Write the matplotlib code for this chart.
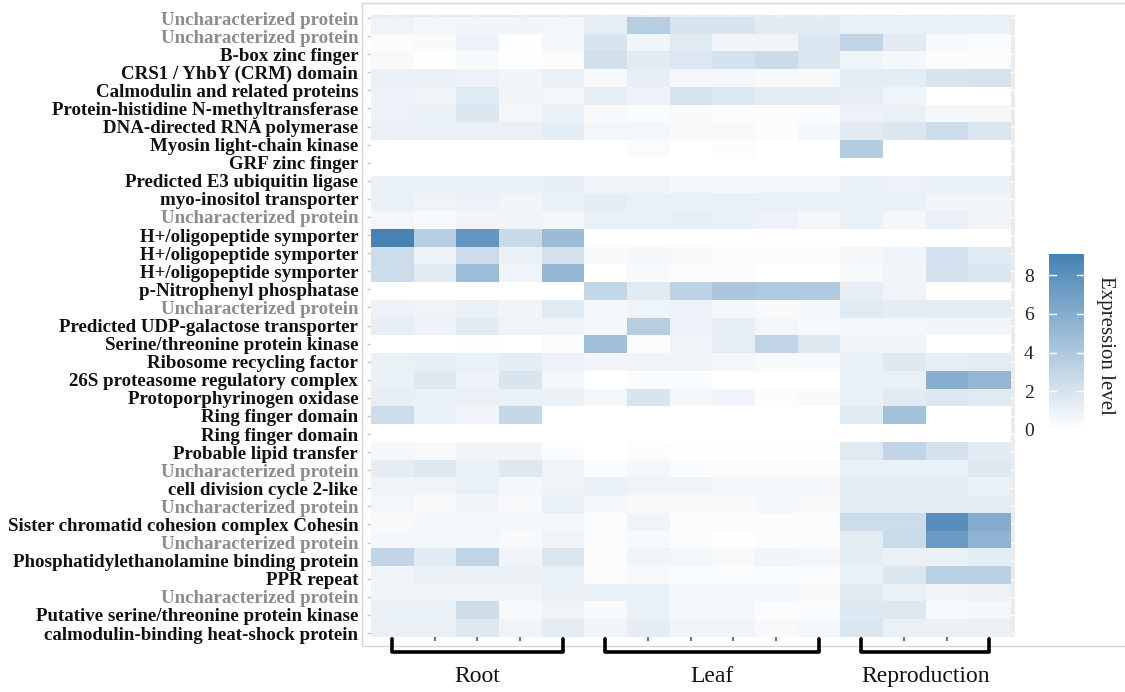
import numpy as np
import matplotlib
matplotlib.use('Agg')
import matplotlib.pyplot as plt
from matplotlib.colors import LinearSegmentedColormap
from matplotlib.patches import Rectangle
from matplotlib.transforms import blended_transform_factory

genes = [
    'Uncharacterized protein', 'Uncharacterized protein', 'B-box zinc finger',
    'CRS1 / YhbY (CRM) domain', 'Calmodulin and related proteins',
    'Protein-histidine N-methyltransferase', 'DNA-directed RNA polymerase',
    'Myosin light-chain kinase', 'GRF zinc finger', 'Predicted E3 ubiquitin ligase',
    'myo-inositol transporter', 'Uncharacterized protein',
    'H+/oligopeptide symporter', 'H+/oligopeptide symporter', 'H+/oligopeptide symporter',
    'p-Nitrophenyl phosphatase', 'Uncharacterized protein',
    'Predicted UDP-galactose transporter', 'Serine/threonine protein kinase',
    'Ribosome recycling factor', '26S proteasome regulatory complex',
    'Protoporphyrinogen oxidase', 'Ring finger domain', 'Ring finger domain',
    'Probable lipid transfer', 'Uncharacterized protein', 'cell division cycle 2-like',
    'Uncharacterized protein', 'Sister chromatid cohesion complex Cohesin',
    'Uncharacterized protein', 'Phosphatidylethanolamine binding protein',
    'PPR repeat', 'Uncharacterized protein', 'Putative serine/threonine protein kinase',
    'calmodulin-binding heat-shock protein',
]

tissues = ['Root', 'Leaf', 'Reproduction']
n_samples = [5, 6, 4]

# expression per gene: 5 root, 6 leaf, 4 reproduction samples
expr = np.array([
    [0.8, 0.6, 0.7, 0.7, 0.6, 1.2, 3.5, 1.9, 1.9, 1.4, 1.4, 1.1, 1.1, 1.1, 1.1],
    [0.2, 0.4, 0.9, 0.1, 0.5, 1.9, 0.7, 1.5, 0.7, 0.7, 1.8, 3.0, 1.4, 0.4, 0.2],
    [0.4, 0.1, 0.4, 0.1, 0.2, 2.3, 1.4, 1.7, 2.1, 2.6, 1.8, 0.8, 0.5, 0.2, 0.2],
    [1.0, 1.0, 0.9, 0.7, 1.0, 0.4, 1.2, 0.6, 0.6, 0.4, 0.4, 1.3, 1.3, 1.9, 2.0],
    [0.9, 0.8, 1.5, 0.7, 0.6, 1.2, 0.9, 2.0, 1.6, 1.3, 1.3, 1.2, 0.8, 0.0, 0.0],
    [0.9, 1.1, 1.8, 0.6, 1.0, 0.4, 0.2, 0.4, 0.2, 0.2, 0.2, 0.9, 1.0, 0.6, 0.6],
    [1.1, 1.1, 1.0, 1.1, 1.3, 0.6, 0.6, 0.4, 0.4, 0.2, 0.5, 1.4, 1.8, 2.5, 1.8],
    [0.0, 0.0, 0.0, 0.0, 0.0, 0.0, 0.3, 0.0, 0.2, 0.0, 0.0, 3.6, 0.0, 0.0, 0.0],
    [0.0, 0.0, 0.0, 0.0, 0.0, 0.0, 0.0, 0.0, 0.0, 0.0, 0.0, 0.0, 0.0, 0.0, 0.0],
    [1.1, 1.0, 1.0, 1.0, 1.2, 0.8, 0.8, 0.6, 0.5, 0.6, 0.6, 1.1, 0.9, 1.1, 1.1],
    [1.1, 0.8, 0.9, 0.7, 1.1, 1.3, 1.0, 1.1, 1.0, 1.0, 1.0, 1.0, 1.0, 0.7, 0.7],
    [0.6, 0.4, 0.7, 0.7, 0.6, 1.1, 1.0, 1.2, 1.1, 0.9, 0.6, 1.0, 0.5, 1.0, 0.7],
    [9.1, 3.5, 7.7, 2.7, 4.9, 0.0, 0.0, 0.0, 0.0, 0.0, 0.0, 0.0, 0.0, 0.0, 0.0],
    [2.5, 0.9, 2.5, 1.0, 2.2, 0.4, 0.5, 0.4, 0.2, 0.2, 0.2, 0.6, 0.8, 2.2, 1.5],
    [2.5, 1.4, 4.8, 0.8, 5.2, 0.0, 0.4, 0.2, 0.2, 0.0, 0.0, 0.4, 0.7, 2.2, 1.8],
    [0.0, 0.0, 0.0, 0.0, 0.0, 2.9, 1.5, 3.2, 4.1, 3.9, 3.9, 1.2, 0.8, 0.0, 0.0],
    [0.9, 0.8, 1.0, 0.7, 1.5, 0.5, 0.8, 0.9, 0.5, 0.4, 0.5, 1.5, 1.3, 1.3, 1.3],
    [1.2, 0.9, 1.4, 0.8, 0.8, 0.6, 3.5, 0.9, 1.2, 0.6, 0.4, 0.6, 0.6, 0.7, 0.7],
    [0.0, 0.0, 0.1, 0.0, 0.2, 4.6, 0.2, 0.8, 1.2, 3.0, 1.6, 0.8, 0.8, 0.0, 0.0],
    [1.0, 1.2, 1.0, 1.3, 0.9, 0.7, 0.8, 0.8, 0.6, 0.4, 0.4, 1.1, 1.6, 1.2, 1.3],
    [1.1, 1.6, 0.9, 1.9, 0.6, 0.0, 0.2, 0.2, 0.0, 0.0, 0.0, 1.0, 1.0, 5.8, 5.2],
    [1.2, 1.1, 1.1, 1.1, 1.1, 0.6, 1.9, 0.6, 0.7, 0.2, 0.4, 1.1, 1.5, 1.7, 1.5],
    [2.5, 1.0, 0.7, 2.8, 0.0, 0.0, 0.0, 0.0, 0.0, 0.0, 0.0, 1.5, 4.5, 0.0, 0.0],
    [0.0, 0.0, 0.0, 0.0, 0.0, 0.0, 0.0, 0.0, 0.0, 0.0, 0.0, 0.0, 0.0, 0.0, 0.0],
    [0.5, 0.4, 0.7, 0.7, 0.2, 0.0, 0.2, 0.1, 0.1, 0.1, 0.1, 1.5, 3.0, 2.1, 1.4],
    [1.3, 1.6, 1.1, 1.6, 0.8, 0.2, 0.6, 0.2, 0.2, 0.2, 0.2, 1.1, 1.1, 1.1, 1.6],
    [0.8, 0.8, 1.0, 0.6, 0.8, 1.0, 0.8, 0.8, 0.6, 0.6, 0.6, 1.3, 1.3, 1.3, 1.0],
    [0.6, 0.4, 0.7, 0.4, 1.0, 0.6, 0.4, 0.4, 0.4, 0.5, 0.4, 1.3, 1.3, 1.3, 1.3],
    [0.4, 0.6, 0.6, 0.5, 0.6, 0.2, 0.8, 0.2, 0.2, 0.2, 0.3, 2.5, 2.5, 8.2, 6.0],
    [0.5, 0.6, 0.6, 0.4, 0.8, 0.2, 0.4, 0.2, 0.1, 0.2, 0.2, 1.3, 2.6, 7.3, 5.5],
    [3.0, 1.4, 3.1, 0.7, 1.8, 0.2, 0.7, 0.6, 0.4, 0.7, 0.6, 1.3, 1.0, 1.1, 1.3],
    [0.8, 1.0, 1.0, 1.1, 1.1, 0.2, 0.4, 0.2, 0.2, 0.2, 0.3, 1.0, 1.8, 3.4, 3.4],
    [0.8, 0.8, 0.8, 0.8, 1.0, 1.1, 1.1, 0.6, 0.6, 0.5, 0.4, 1.5, 1.1, 0.8, 0.9],
    [1.0, 1.0, 2.4, 0.4, 0.8, 0.4, 1.1, 0.6, 0.6, 0.2, 0.2, 1.6, 1.6, 0.4, 0.6],
    [1.1, 1.0, 1.6, 0.8, 1.3, 0.7, 1.3, 0.7, 0.7, 0.4, 0.6, 1.8, 1.1, 1.0, 1.0],
])

W, H = 1125, 692


def box(x0, y0, x1, y1):
    # pixel rectangle (top-left origin) -> figure fraction
    return [x0 / W, 1 - y1 / H, (x1 - x0) / W, (y1 - y0) / H]


cmap = LinearSegmentedColormap.from_list('expr', ['#FFFFFF', '#4682B4'])
vmax = expr.max()

fig = plt.figure(figsize=(W / 100, H / 100), dpi=100)

# light frame around the plotting region
fig.add_artist(Rectangle((362 / W, 1 - 646 / H), 800 / W, 643 / H,
                         transform=fig.transFigure, fill=False,
                         edgecolor='#D6D6D6', lw=1.0, zorder=0))

# panel with gene labels and sample ticks
ax = fig.add_axes(box(370.7, 15, 1015, 637))
ax.set_facecolor('#EBEBEB')
n_rows, n_cols = expr.shape
ax.set_xlim(-0.5, n_cols - 0.4)
ax.set_ylim(n_rows - 0.78, -0.166)
ax.set_yticks(range(n_rows))
ax.set_yticklabels(genes, family='Liberation Serif', fontweight='bold', fontsize=13.6)
for lab, name in zip(ax.get_yticklabels(), genes):
    lab.set_color('#8C8C8C' if name == 'Uncharacterized protein' else '#111111')
ax.set_xticks(range(n_cols))
ax.set_xticklabels([])
ax.tick_params(axis='y', length=3, width=1, color='#C8C8C8', pad=6)
ax.tick_params(axis='x', length=3, width=1.6, color='#777777')
ax.grid(color='white', lw=1)
ax.set_axisbelow(True)
for s in ax.spines.values():
    s.set_visible(False)

# heatmap tiles
hm = fig.add_axes(box(370.7, 16.7, 1010.7, 636.7))
im = hm.imshow(expr, cmap=cmap, vmin=0, vmax=vmax, aspect='auto',
               interpolation='nearest')
hm.axis('off')

# tissue brackets under the columns
tr = blended_transform_factory(ax.transData, ax.transAxes)
start = 0
for name, n in zip(tissues, n_samples):
    x0, x1 = start, start + n - 1
    ax.plot([x0, x0, x1, x1], [-0.003, -0.0235, -0.0235, -0.003], transform=tr,
            color='black', lw=2.6, solid_joinstyle='round',
            solid_capstyle='round', clip_on=False)
    ax.text((x0 + x1) / 2, -0.063, name, transform=tr, ha='center', va='center',
            family='Liberation Serif', fontsize=17, color='#111111')
    start += n

# colour bar
cax = fig.add_axes(box(1049, 254, 1084, 430))
cb = fig.colorbar(im, cax=cax, ticks=[0, 2, 4, 6, 8])
cb.outline.set_visible(False)
cax.yaxis.set_ticks_position('left')
cax.tick_params(length=0, pad=11, labelsize=14)
for lab in cax.get_yticklabels():
    lab.set_family('Liberation Serif')
    lab.set_color('#222222')
ctr = blended_transform_factory(cax.transAxes, cax.transData)
for v in [2, 4, 6, 8]:
    cax.plot([0, 0.2], [v, v], transform=ctr, color='white', lw=1)
    cax.plot([0.8, 1], [v, v], transform=ctr, color='white', lw=1)
fig.text(1105 / W, 1 - 345 / H, 'Expression level', rotation=270,
         ha='center', va='center', family='Liberation Serif', fontsize=15,
         color='#222222')

fig.savefig('out.png', dpi=100)
